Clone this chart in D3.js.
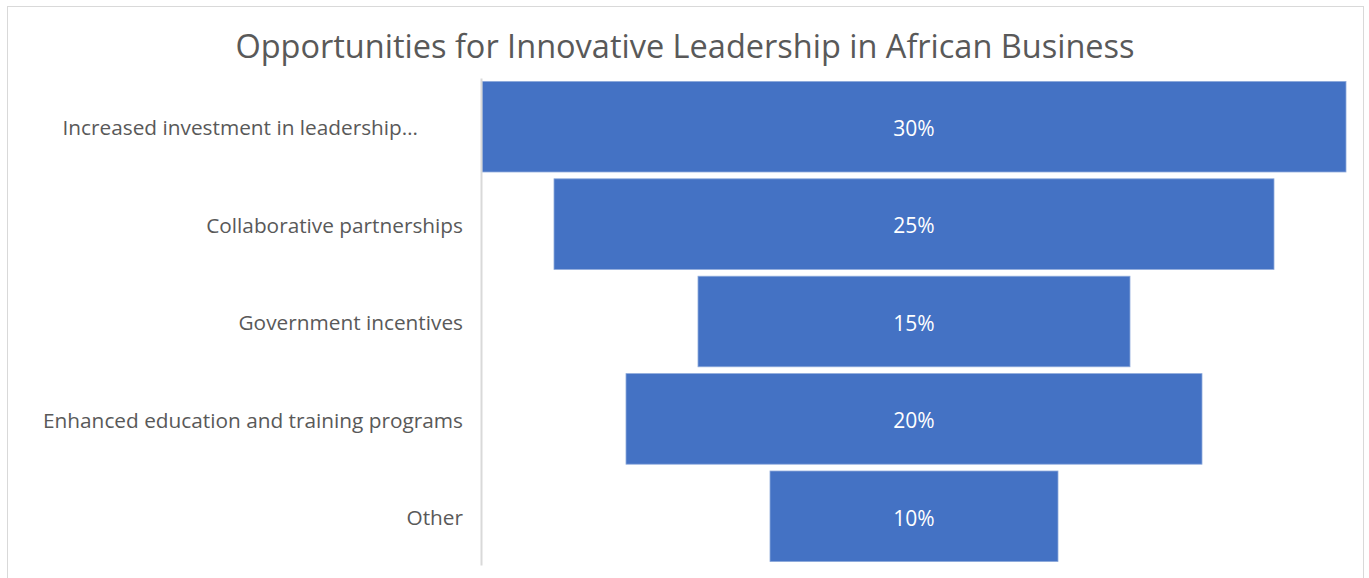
<!DOCTYPE html>
<html>
<head>
<meta charset="utf-8">
<script src="https://cdn.jsdelivr.net/npm/d3@7"></script>
<style>
  body { margin: 0; background: #fff; }
  svg { display: block; font-family: "Open Sans", sans-serif; }
</style>
</head>
<body>
<svg id="chart"></svg>
<script>
var categories = ["Increased investment in leadership…", "Collaborative partnerships", "Government incentives", "Enhanced education and training programs", "Other"];
var values = [30, 25, 15, 20, 10];
var valueLabels = ["30%", "25%", "15%", "20%", "10%"];

var width = 1369, height = 578,
    centre = 914;

var svg = d3.select("#chart")
    .attr("width", width)
    .attr("height", height);

// chart frame
svg.append("rect")
    .attr("x", 7.5).attr("y", 6.5)
    .attr("width", 1356).attr("height", 590)
    .attr("fill", "#fff")
    .attr("stroke", "#d9d9d9");

svg.append("text")
    .attr("x", 685).attr("y", 58)
    .attr("text-anchor", "middle")
    .attr("fill", "#595959")
    .style("font-size", "32.5px")
    .text("Opportunities for Innovative Leadership in African Business");

var y = d3.scaleBand()
    .domain(categories)
    .range([78, 565])
    .paddingInner(0.07)
    .paddingOuter(0.035);

var w = d3.scaleLinear()
    .domain([0, d3.max(values)])
    .range([0, 864]);

var data = categories.map((c, i) => ({cat: c, v: values[i], lab: valueLabels[i]}));

svg.selectAll(".bar")
  .data(data)
  .enter()
    .append("rect")
    .attr("class", "bar")
    .attr("x", d => centre - w(d.v) / 2)
    .attr("y", d => y(d.cat))
    .attr("width", d => w(d.v))
    .attr("height", y.bandwidth())
    .attr("fill", "#4472c4")
    .attr("stroke", "#8eaadb")
    .attr("stroke-width", 0.8);

svg.selectAll(".val")
  .data(data)
  .enter()
    .append("text")
    .attr("class", "val")
    .attr("x", centre)
    .attr("y", d => y(d.cat) + y.bandwidth() / 2 + 2)
    .attr("dy", "0.35em")
    .attr("text-anchor", "middle")
    .attr("fill", "#fff")
    .style("font-size", "21px")
    .text(d => d.lab);

// category axis
var axis = svg.append("g")
    .attr("transform", "translate(481,0)")
    .call(d3.axisLeft(y).tickSize(0).tickPadding(18));

axis.select(".domain")
    .attr("stroke", "#d9d9d9")
    .attr("stroke-width", 2);

axis.selectAll(".tick text")
    .attr("fill", "#595959")
    .style("font-size", "20.8px")
    .style("font-family", "'Open Sans', sans-serif")
    .attr("y", 2)
    .attr("dx", (d, i) => d.endsWith("…") ? -45 : 0);
</script>
</body>
</html>
